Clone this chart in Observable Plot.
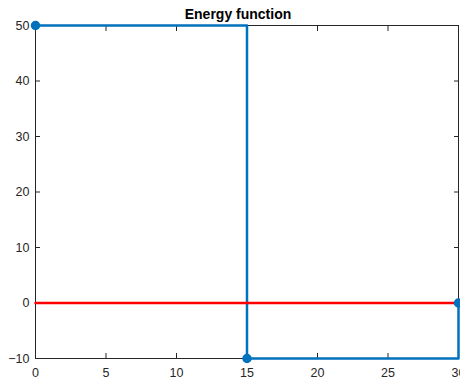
<!DOCTYPE html>
<html>
<head>
<meta charset="utf-8">
<script src="https://cdn.jsdelivr.net/npm/d3@7"></script>
<script src="https://cdn.jsdelivr.net/npm/@observablehq/plot@0.6"></script>
<style>
  html, body { margin: 0; padding: 0; background: #fff; }
  svg { display: block; }
</style>
</head>
<body>
<div id="chart"></div>
<script>
const title = "Energy function";
const xTicks = [0, 5, 10, 15, 20, 25, 30];
const yTicks = [-10, 0, 10, 20, 30, 40, 50];
const energyX = [0, 15, 15, 30, 30];
const energyY = [50, 50, -10, -10, 0];
const markerX = [0, 15, 30];
const markerY = [50, -10, 0];
const zeroX = [0, 30];
const zeroY = [0, 0];

const energy = energyX.map((x, i) => ({x, y: energyY[i]}));
const markers = markerX.map((x, i) => ({x, y: markerY[i]}));
const zero = zeroX.map((x, i) => ({x, y: zeroY[i]}));

const axisColor = "#262626";
const blue = "#0072BD";

const chart = Plot.plot({
  width: 460,
  height: 381,
  marginLeft: 35,
  marginRight: 2,
  marginTop: 25,
  marginBottom: 23,
  style: {fontFamily: "'Liberation Sans', Arial, Helvetica, sans-serif", fontSize: "12.5px", color: axisColor, background: "#fff"},
  x: {domain: [0, 30], ticks: xTicks},
  y: {domain: [-10, 50], ticks: yTicks},
  marks: [
    Plot.axisX(xTicks, {anchor: "bottom", tickSize: -5, tickPadding: 15, label: null, stroke: axisColor, fill: axisColor, fontSize: 12.5}),
    Plot.axisX(xTicks, {anchor: "top", tickSize: -5, tickFormat: () => "", label: null, stroke: axisColor}),
    Plot.axisY(yTicks, {anchor: "left", tickSize: -5, tickPadding: 11, label: null, stroke: axisColor, fill: axisColor, fontSize: 12.5}),
    Plot.axisY(yTicks, {anchor: "right", tickSize: -5, tickFormat: () => "", label: null, stroke: axisColor}),
    Plot.frame({stroke: axisColor, strokeWidth: 1}),
    Plot.line(energy, {x: "x", y: "y", stroke: blue, strokeWidth: 2.5, clip: false}),
    Plot.line(zero, {x: "x", y: "y", stroke: "#FF0000", strokeWidth: 2.5}),
    Plot.dot(markers, {x: "x", y: "y", r: 4, fill: blue, stroke: blue})
  ]
});

const svg = d3.select(chart);
svg.append("text")
  .attr("x", 238)
  .attr("y", 19)
  .attr("text-anchor", "middle")
  .attr("font-weight", "bold")
  .attr("font-size", 14)
  .attr("fill", "#000")
  .text(title);

document.getElementById("chart").appendChild(chart);
</script>
</body>
</html>
